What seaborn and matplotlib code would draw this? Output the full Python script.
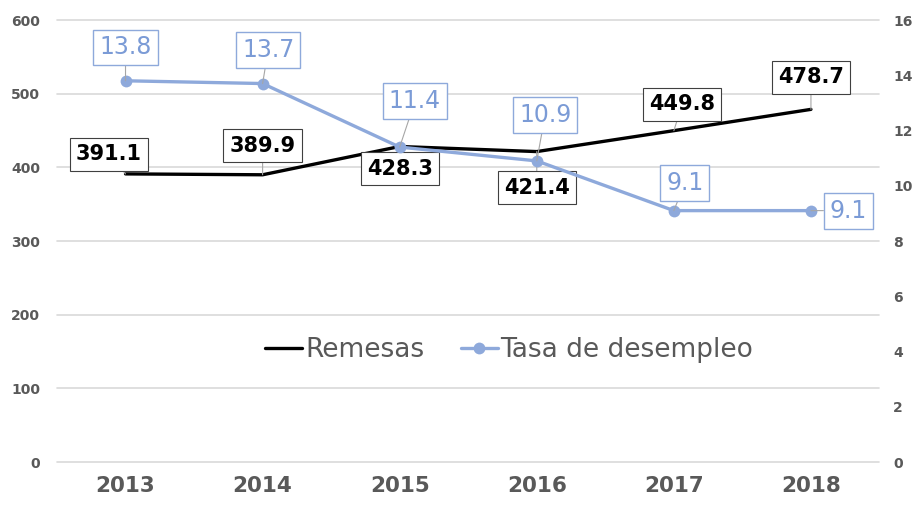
import pandas as pd
import matplotlib.pyplot as plt
import seaborn as sns

# Data
years = [2013, 2014, 2015, 2016, 2017, 2018]
remesas = [391.1, 389.9, 428.3, 421.4, 449.8, 478.7]
desempleo = [13.8, 13.7, 11.4, 10.9, 9.1, 9.1]

df = pd.DataFrame({'Year': years, 'Remesas': remesas, 'Tasa': desempleo})

sns.set_style('white')
plt.rcParams['font.family'] = ['DejaVu Sans']

black = '#000000'
blue = '#8EA9DB'
blue_txt = '#7B9BD6'
grey = '#595959'

fig = plt.figure(figsize=(9.19, 5.13), dpi=100)
ax = fig.add_axes([0.062, 0.0994, 0.895, 0.8616])
ax2 = ax.twinx()

sns.lineplot(data=df, x='Year', y='Remesas', ax=ax, color=black, linewidth=2.4,
             label='Remesas', legend=False)
sns.lineplot(data=df, x='Year', y='Tasa', ax=ax2, color=blue, linewidth=2.4,
             marker='o', markersize=8.5, markeredgewidth=0, label='Tasa de desempleo',
             legend=False)

ax.set_ylim(0, 600)
ax2.set_ylim(0, 16)
ax.set_xlim(2012.5, 2018.5)
ax.set_yticks(range(0, 601, 100))
ax2.set_yticks(range(0, 17, 2))
ax.set_xticks(years)
ax.set_xticklabels([str(y) for y in years], fontsize=15.5, fontweight='bold', color=grey)
ax.grid(axis='y', color='#D9D9D9', linewidth=1.2)
for gl in ax.get_ygridlines():
    gl.set_clip_on(False)
ax.set_axisbelow(True)
for a in (ax, ax2):
    for s in a.spines.values():
        s.set_visible(False)
    a.set_xlabel('')
    a.set_ylabel('')
    a.tick_params(length=0)
ax.tick_params(axis='y', labelsize=10, labelcolor=grey, pad=12)
ax2.tick_params(axis='y', labelsize=10, labelcolor=grey, pad=10)
ax.tick_params(axis='x', pad=10)
for t in ax.get_yticklabels() + ax2.get_yticklabels():
    t.set_fontweight('bold')

# Data labels (offsets in points)
rem_off = [(-12, 14), (0, 21), (0, -16), (0, -26), (6, 19), (0, 23)]
tas_off = [(0, 24), (4, 24), (11, 33), (6, 33), (8, 20), (27, 0)]

for x, v, off in zip(years, remesas, rem_off):
    ax.annotate(f'{v:.1f}', xy=(x, v), xytext=off, textcoords='offset points',
                ha='center', va='center', fontsize=15, fontweight='bold', color=black,
                bbox=dict(boxstyle='square,pad=0.3', fc='white', ec='#404040', lw=0.8),
                arrowprops=dict(arrowstyle='-', color='#A6A6A6', lw=0.8,
                                shrinkA=0, shrinkB=0))
for x, v, off in zip(years, desempleo, tas_off):
    ax2.annotate(f'{v:.1f}', xy=(x, v), xytext=off, textcoords='offset points',
                 ha='center', va='center', fontsize=17, color=blue_txt,
                 bbox=dict(boxstyle='square,pad=0.25', fc='white', ec=blue, lw=1),
                 arrowprops=dict(arrowstyle='-', color='#A6A6A6', lw=0.8,
                                 shrinkA=0, shrinkB=0))

h1, l1 = ax.get_legend_handles_labels()
h2, l2 = ax2.get_legend_handles_labels()
leg = ax2.legend(h1 + h2, l1 + l2, loc='center', bbox_to_anchor=(0.55, 0.253),
                 ncol=2, frameon=False, fontsize=19, handlelength=1.4,
                 handletextpad=0.1, columnspacing=1.4)
for t in leg.get_texts():
    t.set_color(grey)

fig.savefig('out.png', dpi=100)
